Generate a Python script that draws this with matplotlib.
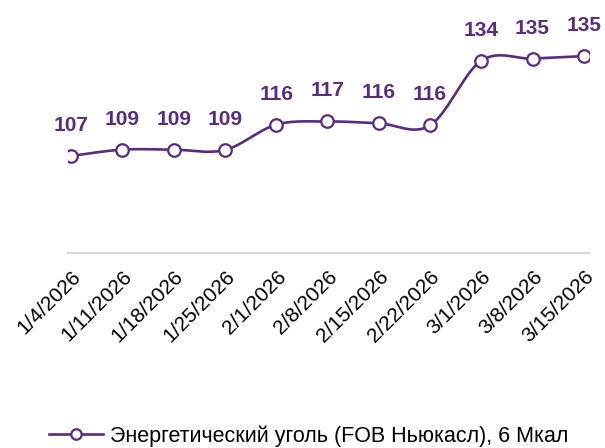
import numpy as np
import matplotlib
matplotlib.use("Agg")
import matplotlib.pyplot as plt
from matplotlib.lines import Line2D

plt.rcParams["font.family"] = ["Liberation Sans", "DejaVu Sans"]

dates = ["1/4/2026", "1/11/2026", "1/18/2026", "1/25/2026", "2/1/2026", "2/8/2026",
         "2/15/2026", "2/22/2026", "3/1/2026", "3/8/2026", "3/15/2026"]
prices = [106.9, 108.7, 108.7, 108.6, 115.8, 116.7, 116.2, 115.6, 134.0, 134.6, 135.3]
series_name = "Энергетический уголь (FOB Ньюкасл), 6 Мкал"

purple = "#582C83"


def smooth(x, y, n=30, t=0.5):
    # Catmull-Rom style smoothing like Excel's smoothed line
    x = np.asarray(x, float)
    y = np.asarray(y, float)
    px = np.concatenate([[x[0]], x, [x[-1]]])
    py = np.concatenate([[y[0]], y, [y[-1]]])
    xs, ys = [], []
    for i in range(1, len(px) - 2):
        p0, p1, p2, p3 = (np.array([px[j], py[j]]) for j in range(i - 1, i + 3))
        c1 = p1 + (p2 - p0) * t / 3
        c2 = p2 - (p3 - p1) * t / 3
        s = np.linspace(0, 1, n)[:, None]
        b = (1 - s) ** 3 * p1 + 3 * (1 - s) ** 2 * s * c1 + 3 * (1 - s) * s ** 2 * c2 + s ** 3 * p2
        xs.extend(b[:, 0])
        ys.extend(b[:, 1])
    return np.array(xs), np.array(ys)


fig = plt.figure(figsize=(6.05, 4.48), dpi=100)
ax = fig.add_axes([68 / 605, 1 - 253 / 448, (589 - 68) / 605, (253 - 35) / 448])

x = np.arange(len(dates))
sx, sy = smooth(x, prices)
ax.plot(sx, sy, color=purple, lw=1.9, zorder=2)
ax.plot(x, prices, ls="none", marker="o", ms=9, mfc="white", mec=purple, mew=1.6, zorder=3)

for xi, v in zip(x, prices):
    ax.annotate(f"{v:.0f}", (xi, v), xytext=(0, 22), textcoords="offset points",
                ha="center", va="center", fontsize=15, fontweight="bold", color=purple)

ax.set_xlim(-0.06, 10.1)
ax.set_ylim(79.3, 141.3)
ax.set_yticks([])
for s in ["left", "right", "top"]:
    ax.spines[s].set_visible(False)
ax.spines["bottom"].set_color("#D9D9D9")
ax.spines["bottom"].set_linewidth(1.5)
ax.set_xticks(x)
ax.set_xticklabels(dates, rotation=45, ha="right", va="top", rotation_mode="anchor", fontsize=15)
ax.tick_params(axis="x", length=0, pad=10)

handle = Line2D([], [], color=purple, lw=1.9, marker="o", ms=7.5, mfc="white", mec=purple, mew=1.6)
fig.legend([handle], [series_name], loc="center", bbox_to_anchor=(0.51, 1 - 436 / 448),
           frameon=False, fontsize=15.5, handlelength=2.5, handletextpad=0.3)

fig.savefig("out.png", dpi=100)
